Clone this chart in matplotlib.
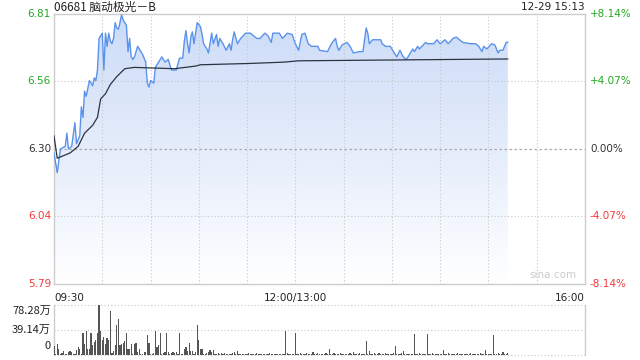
import numpy as np
import matplotlib
matplotlib.use('Agg')
import matplotlib.pyplot as plt
from matplotlib.colors import LinearSegmentedColormap

plt.rcParams['font.family'] = ['Noto Sans CJK SC', 'DejaVu Sans']

title = '06681 脑动极光－B'
stamp = '12-29 15:13'
prev_close = 6.30
pct_max = 8.14

# minute index from 09:30 (afternoon continues after 150 = 13:00)
price_min = [0, 2, 4, 7, 8, 9, 11, 13, 14, 16, 17, 18, 19, 20, 21, 22, 24, 25, 26, 27,
             28, 29, 30, 31, 32, 33, 34, 35, 36, 37, 38, 39, 40, 41, 42, 43, 45, 46, 47, 48,
             49, 50, 52, 55, 57, 58, 59, 60, 62, 63, 65, 67, 69, 71, 72, 73, 76, 78, 80, 81,
             82, 83, 84, 85, 86, 87, 88, 89, 91, 92, 93, 95, 96, 98, 99, 101, 102, 103, 105, 107,
             109, 110, 111, 112, 114, 116, 119, 122, 126, 128, 131, 133, 135, 136, 140, 142, 145, 148, 150, 152,
             154, 156, 158, 160, 164, 165, 170, 172, 173, 175, 176, 177, 179, 182, 184, 186, 190, 192, 194, 195,
             196, 198, 203, 204, 206, 209, 211, 213, 215, 217, 219, 221, 223, 224, 226, 227, 231, 232, 236, 238,
             240, 243, 245, 248, 250, 252, 254, 259, 262, 264, 266, 267, 269, 272, 274, 276, 277, 279, 281, 282]
price = [6.285, 6.21, 6.30, 6.31, 6.36, 6.30, 6.31, 6.40, 6.32, 6.35, 6.46, 6.42, 6.52, 6.50, 6.53, 6.56, 6.54, 6.57, 6.56, 6.60,
         6.72, 6.73, 6.74, 6.60, 6.74, 6.69, 6.74, 6.71, 6.70, 6.72, 6.78, 6.76, 6.755, 6.78, 6.81, 6.79, 6.77, 6.67, 6.72, 6.65,
         6.64, 6.65, 6.69, 6.66, 6.63, 6.55, 6.535, 6.56, 6.55, 6.61, 6.63, 6.65, 6.63, 6.64, 6.62, 6.60, 6.60, 6.645, 6.645, 6.71,
         6.75, 6.70, 6.665, 6.725, 6.745, 6.70, 6.74, 6.78, 6.765, 6.735, 6.70, 6.68, 6.665, 6.74, 6.70, 6.735, 6.69, 6.72, 6.70, 6.675,
         6.70, 6.675, 6.715, 6.745, 6.70, 6.72, 6.74, 6.74, 6.72, 6.72, 6.74, 6.73, 6.705, 6.74, 6.74, 6.72, 6.74, 6.735, 6.70, 6.675,
         6.735, 6.74, 6.70, 6.69, 6.69, 6.675, 6.67, 6.695, 6.705, 6.72, 6.69, 6.675, 6.695, 6.705, 6.69, 6.665, 6.67, 6.67, 6.76, 6.74,
         6.70, 6.715, 6.715, 6.70, 6.69, 6.69, 6.67, 6.65, 6.675, 6.65, 6.64, 6.66, 6.68, 6.67, 6.69, 6.68, 6.705, 6.70, 6.70, 6.715,
         6.70, 6.715, 6.70, 6.72, 6.725, 6.715, 6.705, 6.70, 6.70, 6.69, 6.67, 6.69, 6.68, 6.70, 6.695, 6.665, 6.675, 6.675, 6.705, 6.705]

avg_min = [0, 2, 10, 15, 19, 24, 27, 29, 32, 35, 39, 44, 50, 75, 88, 91, 122, 143, 152, 282]
avg = [6.35, 6.265, 6.285, 6.31, 6.36, 6.39, 6.42, 6.49, 6.51, 6.545, 6.575, 6.605, 6.61, 6.605, 6.615, 6.62, 6.625, 6.63, 6.635, 6.642]

# volume per minute, 万
vol = [14, 1, 17, 10, 1, 3, 6, 2, 1, 4,
       7, 5, 2, 1, 8, 12, 10, 1, 34, 17,
       37, 10, 9, 35, 16, 21, 23, 34, 78, 38,
       23, 28, 17, 27, 23, 69, 3, 7, 16, 47,
       56, 16, 18, 19, 22, 35, 10, 10, 17, 2,
       17, 19, 5, 9, 2, 1, 4, 5, 31, 19,
       2, 1, 3, 38, 13, 16, 34, 1, 3, 4,
       34, 5, 1, 3, 4, 3, 4, 1, 35, 1,
       2, 10, 13, 7, 19, 6, 6, 2, 4, 47,
       24, 9, 9, 2, 1, 3, 4, 8, 4, 8,
       2, 1, 3, 2, 3, 2, 3, 1, 2, 1,
       2, 3, 5, 1, 6, 2, 1, 2, 1, 2,
       1, 3, 1, 2, 2, 1, 3, 1, 2, 1,
       2, 1, 2, 1, 3, 1, 2, 1, 2, 1,
       1, 2, 1, 2, 37, 3, 1, 2, 1, 2,
       35, 2, 1, 3, 2, 1, 2, 3, 2, 1,
       2, 5, 2, 1, 3, 2, 1, 2, 1, 3,
       2, 9, 1, 2, 3, 1, 2, 1, 3, 2,
       1, 2, 1, 2, 3, 1, 5, 2, 1, 2,
       3, 2, 1, 2, 22, 2, 6, 1, 2, 3,
       1, 2, 3, 1, 2, 1, 3, 2, 1, 2,
       1, 3, 14, 2, 1, 2, 3, 6, 1, 2,
       1, 2, 1, 2, 33, 2, 1, 3, 1, 2,
       1, 2, 33, 2, 1, 3, 1, 2, 1, 2,
       1, 2, 8, 1, 2, 3, 1, 2, 1, 2,
       1, 3, 1, 2, 1, 2, 1, 2, 1, 3,
       1, 2, 1, 2, 1, 3, 2, 1, 8, 2,
       1, 2, 1, 31, 2, 1, 3, 2, 1, 4,
       2, 2, 3]
vol_max = 78.28

green = '#22a822'
red = '#f03a3a'
dark = '#333333'
grid_c = '#c8c8c8'

fig = plt.figure(figsize=(6.4, 3.6), dpi=100)
ax = fig.add_axes([54 / 640, 76 / 360, 531 / 640, 270 / 360])
axv = fig.add_axes([54 / 640, 5 / 360, 531 / 640, 50 / 360])

lo = prev_close * (1 - pct_max / 100)
hi = prev_close * (1 + pct_max / 100)
ax.set_xlim(0, 330)
ax.set_ylim(lo, hi)

# gradient fill under the price line
cmap = LinearSegmentedColormap.from_list('fill', ['#ffffff', '#cbdbf7'])
grad = np.linspace(0, 1, 256).reshape(-1, 1)
im = ax.imshow(grad, cmap=cmap, aspect='auto', origin='lower',
               extent=[0, 330, lo, hi], zorder=1)
poly = ax.fill_between(price_min, price, lo, color='none', lw=0)
im.set_clip_path(poly.get_paths()[0], transform=ax.transData)

ax.plot(price_min, price, color='#5b93ec', lw=1.0, zorder=3)
ax.plot(avg_min, avg, color='#2b3440', lw=0.9, zorder=4)

# grid
for xv in range(30, 330, 30):
    ax.axvline(xv, color=grid_c, lw=0.8, ls=(0, (1, 2)), zorder=2)
mid1 = (prev_close + hi) / 2
mid2 = (prev_close + lo) / 2
for yv in [mid1, mid2]:
    ax.axhline(yv, color=grid_c, lw=0.8, ls=(0, (1, 2)), zorder=2)
ax.axhline(prev_close, color='#aaaaaa', lw=0.9, ls=(0, (2, 2)), zorder=2)

ax.set_xticks([])
ax.set_yticks([])
for s in ax.spines.values():
    s.set_color('#cccccc')
    s.set_linewidth(1)

# left price labels and right percentage labels
ylabels = [(hi, '6.81', '+8.14%', green), (mid1, '6.56', '+4.07%', green),
           (prev_close, '6.30', '0.00%', dark), (mid2, '6.04', '-4.07%', red),
           (lo, '5.79', '-8.14%', red)]
for yv, lt, rt, c in ylabels:
    ax.text(-3 / 531 * 330, yv, lt, color=c, fontsize=7.5, ha='right', va='center',
            family=['DejaVu Sans'])
    ax.text(330 + 5 / 531 * 330, yv, rt, color=c, fontsize=7.5, ha='left', va='center',
            family=['DejaVu Sans'])

ax.text(0, 1 + 7 / 270, title, transform=ax.transAxes, fontsize=8.5, color='#222222',
        ha='left', va='center')
ax.text(1, 1 + 7 / 270, stamp, transform=ax.transAxes, fontsize=7.5, color='#222222',
        ha='right', va='center', family=['DejaVu Sans'])

ax.text(0, -0.035, '09:30', transform=ax.transAxes, fontsize=7.5, color='#222222',
        ha='left', va='top', family=['DejaVu Sans'])
ax.text(150 / 330, -0.035, '12:00/13:00', transform=ax.transAxes, fontsize=7.5,
        color='#222222', ha='center', va='top', family=['DejaVu Sans'])
ax.text(1, -0.035, '16:00', transform=ax.transAxes, fontsize=7.5, color='#222222',
        ha='right', va='top', family=['DejaVu Sans'])
ax.text(0.985, 0.015, 'sina.com', transform=ax.transAxes, fontsize=7.5,
        color='#cccccc', ha='right', va='bottom', family=['DejaVu Sans'])

# volume panel
axv.set_xlim(0, 330)
axv.set_ylim(0, vol_max)
axv.bar(np.arange(len(vol)), vol, width=0.75, color='#555555', lw=0, zorder=3)
for yv in [vol_max, vol_max / 2, 0]:
    axv.axhline(yv, color=grid_c, lw=0.8, ls=(0, (1, 2)), zorder=2, clip_on=False)
axv.set_xticks([])
axv.set_yticks([])
for k in ['top', 'bottom']:
    axv.spines[k].set_visible(False)
for k in ['left', 'right']:
    axv.spines[k].set_color('#cccccc')
    axv.spines[k].set_linewidth(1)

vt = [(vol_max, '78.28万', 'top'), (vol_max / 2, '39.14万', 'center'), (0, '0', 'bottom')]
for yv, t, va in vt:
    off = {'top': -1.5, 'center': 0, 'bottom': 6}[va]
    axv.text(-3 / 531 * 330, yv + off, t, fontsize=8, color='#222222',
             ha='right', va=va)

fig.savefig('out.png', dpi=100)
